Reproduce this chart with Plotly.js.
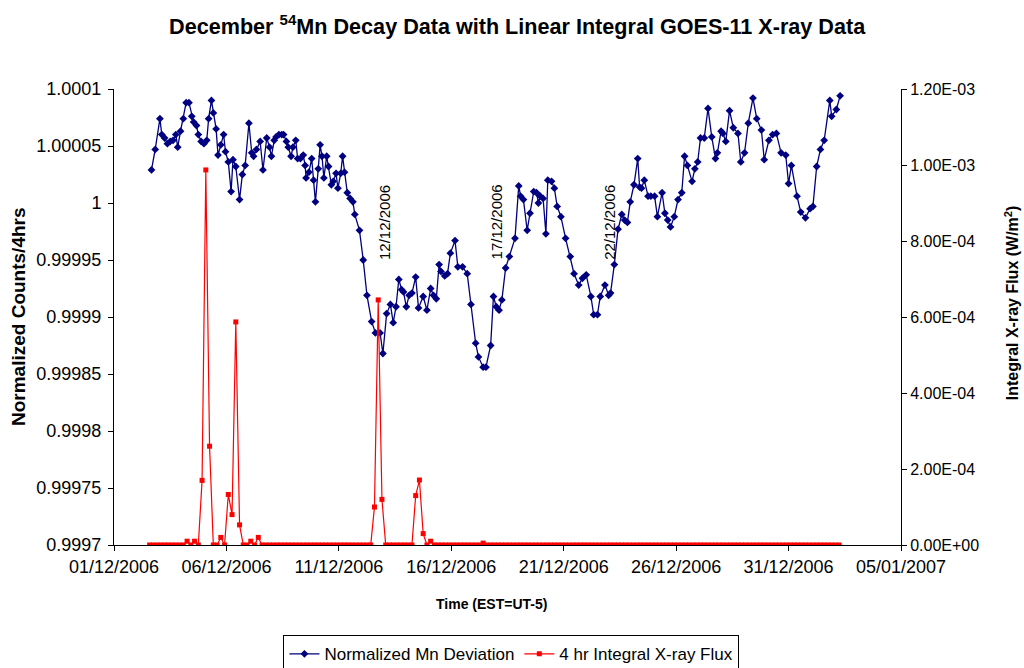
<!DOCTYPE html>
<html>
<head>
<meta charset="utf-8">
<script src="https://cdn.plot.ly/plotly-3.0.1.min.js"></script>
<style>html,body{margin:0;padding:0;background:#fff}#chart{width:1024px;height:668px}</style>
</head>
<body>
<div id="chart"></div>
<script>
// Hours since 2006-12-01 00:00 for each Mn sample
var mnHours = [40,44,49,51,54,57,60,63,66,68,71,74,77,80,83,85,88,90,93,96,
99,101,104,106,109,111,114,117,119,122,125,127,130,134,137,140,144,147,149,152,
156,159,163,166,168,171,173,176,179,181,184,186,189,191,194,196,199,202,204,205,
208,211,213,215,218,220,222,224,227,229,232,234,237,239,242,244,246,249,252,255,
257,262,266,270,275,279,284,287,291,295,298,301,304,307,309,312,315,318,322,325,
330,334,338,341,344,347,349,353,356,359,364,367,372,377,381,386,389,394,397,402,
405,408,411,414,418,422,428,432,434,437,441,444,448,451,453,455,458,461,463,467,
470,473,477,482,487,491,496,500,504,509,512,516,519,524,528,530,534,538,542,545,
548,551,555,559,561,563,566,570,573,577,580,585,588,591,594,598,602,606,609,612,
617,620,623,626,630,634,638,642,644,648,650,653,657,661,666,669,673,677,682,686,
691,694,699,703,707,712,717,720,723,729,733,738,743,746,750,754,758,764,766,771,775];

// Normalized Mn deviation values
var mnValues = [1.000029,1.000047,1.000074,1.000060,1.000057,1.000052,1.000054,1.000055,1.000060,1.000049,
1.000063,1.000074,1.000088,1.000088,1.000076,1.000071,1.000068,1.000060,1.000054,1.000052,
1.000055,1.000074,1.000090,1.000079,1.000065,1.000042,1.000051,1.000060,1.000045,1.000036,
1.000010,1.000038,1.000032,1.000003,1.000025,1.000033,1.000070,1.000044,1.000041,1.000047,
1.000054,1.000029,1.000057,1.000049,1.000041,1.000055,1.000058,1.000060,1.000060,1.000060,
1.000054,1.000049,1.000041,1.000049,1.000055,1.000039,1.000039,1.000042,1.000033,1.000022,
1.000027,1.000039,1.000020,1.000001,1.000030,1.000051,1.000041,1.000022,1.000041,1.000032,
1.000016,1.000019,1.000026,1.000013,1.000026,1.000041,1.000027,1.000009,1.000004,1.000001,
0.999990,0.999976,0.999950,0.999919,0.999896,0.999886,0.999886,0.999868,0.999903,0.999911,
0.999895,0.999909,0.999933,0.999924,0.999922,0.999909,0.999919,0.999921,0.999935,0.999908,
0.999918,0.999906,0.999925,0.999919,0.999916,0.999946,0.999940,0.999936,0.999938,0.999956,
0.999967,0.999944,0.999944,0.999938,0.999911,0.999877,0.999865,0.999856,0.999856,0.999875,
0.999918,0.999909,0.999906,0.999915,0.999943,0.999953,0.999969,1.000015,1.000006,1.000003,
0.999976,0.999991,1.000010,1.000009,1.000000,1.000006,1.000004,0.999973,1.000020,1.000019,
1.000013,0.999997,0.999988,0.999969,0.999953,0.999938,0.999928,0.999934,0.999937,0.999918,
0.999902,0.999902,0.999918,0.999928,0.999919,0.999921,0.999946,0.999977,0.999990,0.999985,
0.999983,1.000001,1.000016,1.000039,1.000014,1.000013,1.000020,1.000006,1.000006,1.000006,
0.999988,1.000009,0.999991,0.999985,0.999979,0.999988,1.000003,1.000009,1.000041,1.000033,
1.000019,1.000030,1.000036,1.000057,1.000057,1.000083,1.000058,1.000039,1.000044,1.000063,
1.000061,1.000054,1.000081,1.000066,1.000061,1.000036,1.000044,1.000070,1.000092,1.000074,
1.000064,1.000038,1.000055,1.000060,1.000061,1.000044,1.000042,1.000017,1.000033,1.000006,
0.999992,0.999987,0.999995,0.999997,1.000032,1.000047,1.000055,1.000090,1.000076,1.000082,1.000094];

// 4 hr integral X-ray flux (W/m^2), one value every 4 hours from xrayStartHour
var xrayStartHour = 38;
var xrayStepHours = 4;
var xrayValues = [
0,0,0,0,0,0,0,0,0,0,
1e-5,0,1e-5,0,1.7e-4,9.87e-4,2.6e-4,0,0,2e-5,
0,1.33e-4,8e-5,5.87e-4,5.3e-5,0,0,1e-5,0,2e-5,
0,0,0,0,0,0,0,0,0,0,
0,0,0,0,0,0,0,0,0,0,
0,0,0,0,0,0,0,0,0,0,
1e-4,6.45e-4,1.2e-4,0,0,0,0,0,0,0,
0,1.3e-4,1.71e-4,3e-5,0,1e-5,0,0,0,0,
0,0,0,0,0,0,0,0,0,5e-6,
0,0,0,0,0,0,0,0,0,0,
0,0,0,0,0,0,0,0,0,0,
0,0,0,0,0,0,0,0,0,0,
0,0,0,0,0,0,0,0,0,0,
0,0,0,0,0,0,0,0,0,0,
0,0,0,0,0,0,0,0,0,0,
0,0,0,0,0,0,0,0,0,0,
0,0,0,0,0,0,0,0,0,0,
0,0,0,0,0,0,0,0,0,0,
0,0,0,0,0];

var leftTickVals = [0.9997,0.99975,0.9998,0.99985,0.9999,0.99995,1,1.00005,1.0001];
var leftTickText = ['0.9997','0.99975','0.9998','0.99985','0.9999','0.99995','1','1.00005','1.0001'];
var rightTickVals = [0,2e-4,4e-4,6e-4,8e-4,1e-3,1.2e-3];
var rightTickText = ['0.00E+00','2.00E-04','4.00E-04','6.00E-04','8.00E-04','1.00E-03','1.20E-03'];
var xTickVals = ['2006-12-01','2006-12-06','2006-12-11','2006-12-16','2006-12-21','2006-12-26','2006-12-31','2007-01-05'];
var xTickText = ['01/12/2006','06/12/2006','11/12/2006','16/12/2006','21/12/2006','26/12/2006','31/12/2006','05/01/2007'];
var markDates = ['2006-12-13','2006-12-18','2006-12-23'];
var markLabels = ['12/12/2006','17/12/2006','22/12/2006'];

var base = Date.UTC(2006, 11, 1);
function hourToDate(h) {
  return new Date(base + h * 3600000).toISOString().slice(0, 19).replace('T', ' ');
}
var mnX = mnHours.map(hourToDate);
var xrayX = xrayValues.map(function (v, i) { return hourToDate(xrayStartHour + i * xrayStepHours); });

var FONT = 'Liberation Sans, Arial, sans-serif';

var traces = [
  {
    x: mnX, y: mnValues, type: 'scatter', mode: 'lines+markers',
    name: 'Normalized Mn Deviation',
    line: {color: '#000080', width: 1.3},
    marker: {symbol: 'diamond', size: 6, color: '#000080'},
    yaxis: 'y'
  },
  {
    x: xrayX, y: xrayValues, type: 'scatter', mode: 'lines+markers',
    name: '4 hr Integral X-ray Flux',
    line: {color: '#FF0000', width: 1.2},
    marker: {symbol: 'square', size: 5, color: '#FF0000'},
    yaxis: 'y2'
  }
];

function px2paperX(px) { return (px - 114) / 787; }

var annotations = markDates.map(function (d, i) {
  return {
    x: d, xref: 'x', y: 0.708, yref: 'paper', text: markLabels[i],
    showarrow: false, textangle: -90, font: {family: FONT, size: 15, color: '#000'},
    xanchor: 'center', yanchor: 'middle'
  };
});
// axis titles placed as annotations to match the reference positions
annotations.push({
  x: 0.48, xref: 'paper', y: -0.129, yref: 'paper', text: '<b>Time (EST=UT-5)</b>',
  showarrow: false, font: {family: FONT, size: 14, color: '#000'}, xanchor: 'center', yanchor: 'middle'
});
annotations.push({
  x: px2paperX(18), xref: 'paper', y: 0.5, yref: 'paper', text: '<b>Normalized Counts/4hrs</b>',
  showarrow: false, textangle: -90, font: {family: FONT, size: 19, color: '#000'}, xanchor: 'center', yanchor: 'middle'
});
annotations.push({
  x: px2paperX(1012), xref: 'paper', y: 0.53, yref: 'paper', text: '<b>Integral X-ray Flux (W/m<sup>2</sup>)</b>',
  showarrow: false, textangle: -90, font: {family: FONT, size: 16, color: '#000'}, xanchor: 'center', yanchor: 'middle'
});

var layout = {
  width: 1024, height: 668,
  paper_bgcolor: '#fff', plot_bgcolor: '#fff',
  margin: {l: 114, r: 123, t: 89, b: 123, autoexpand: false},
  font: {family: FONT, size: 15, color: '#000'},
  title: {
    text: '<b>December <sup>54</sup>Mn Decay Data with Linear Integral GOES-11 X-ray Data</b>',
    font: {family: FONT, size: 21.6, color: '#000'},
    x: 0.505, xanchor: 'center', y: 0.96, yanchor: 'middle', yref: 'container'
  },
  xaxis: {
    type: 'date', range: ['2006-12-01', '2007-01-05'],
    tickvals: xTickVals, ticktext: xTickText,
    ticks: 'outside', ticklen: 5, tickcolor: '#000',
    showline: true, linecolor: '#000', linewidth: 1, showgrid: false, zeroline: false,
    tickfont: {family: FONT, size: 18, color: '#000'}
  },
  yaxis: {
    range: [0.9997, 1.0001],
    tickvals: leftTickVals, ticktext: leftTickText,
    ticks: 'outside', ticklen: 5, tickcolor: '#000', ticklabelstandoff: 3,
    showline: true, linecolor: '#000', linewidth: 1, showgrid: false, zeroline: false,
    tickfont: {family: FONT, size: 18, color: '#000'}
  },
  yaxis2: {
    overlaying: 'y', side: 'right',
    range: [0, 1.2e-3],
    tickvals: rightTickVals, ticktext: rightTickText,
    ticks: 'outside', ticklen: 5, tickcolor: '#000',
    showline: true, linecolor: '#000', linewidth: 1, showgrid: false, zeroline: false,
    tickfont: {family: FONT, size: 16, color: '#000'}
  },
  showlegend: true,
  legend: {
    orientation: 'h', x: 0.505, xanchor: 'center', y: -0.198, yanchor: 'top',
    bordercolor: '#000', borderwidth: 1, bgcolor: '#fff',
    font: {family: FONT, size: 17, color: '#000'},
    tracegroupgap: 0, itemwidth: 30, valign: 'middle'
  },
  annotations: annotations
};

Plotly.newPlot('chart', traces, layout, {displayModeBar: false, responsive: false});
</script>
</body>
</html>
